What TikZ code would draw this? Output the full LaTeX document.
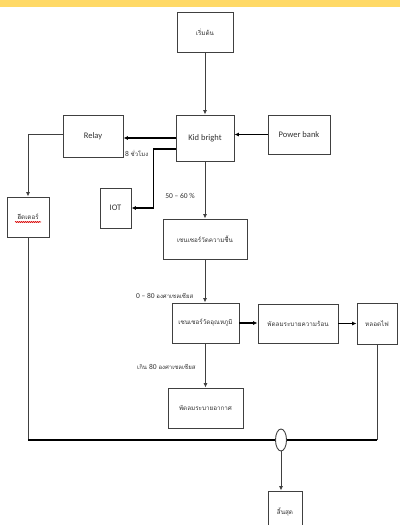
\documentclass[tikz,border=0pt]{standalone}
\usepackage{fontspec}
\setmainfont{Carlito}
\newfontfamily\thai[Script=Thai]{Loma}
\usetikzlibrary{arrows.meta,calc,shapes.geometric,decorations.pathmorphing}
\definecolor{band}{HTML}{FFD966}
\tikzset{
  box/.style={draw=black!75, line width=0.9pt, fill=white, inner sep=1pt, align=center,
    text=black!80, font=\fontsize{8.5}{9}\selectfont},
  tbox/.style={box, font=\thai\fontsize{6.3}{7}\selectfont},
  lbl/.style={text=black!80, inner sep=0pt, font=\fontsize{7.5}{9}\selectfont},
  tlbl/.style={lbl, font=\thai\fontsize{6}{7}\selectfont},
  thinline/.style={draw=black!75, line width=0.9pt},
  thickline/.style={draw=black, line width=1.4pt},
  arr/.style={-{Latex[length=4.5pt,width=4pt]}},
}
\begin{document}
\begin{tikzpicture}[x=1pt,y=-1pt]
\useasboundingbox (0,0) rectangle (400,525);
\clip (0,0) rectangle (400,525);
\fill[band] (0,0) rectangle (400,7);

\node[tbox, minimum width=56pt, minimum height=40pt] (start) at (205,32) {เริ่มต้น};
\node[box, minimum width=58pt, minimum height=46pt] (kid) at (205,138) {Kid bright};
\node[box, minimum width=62pt, minimum height=39pt] (power) at (299,134.5) {Power bank};
\node[box, minimum width=60pt, minimum height=42pt] (relay) at (93,136) {Relay};
\node[box, minimum width=31pt, minimum height=40pt] (iot) at (115.5,208) {IOT};
\node[tbox, minimum width=42pt, minimum height=40pt] (heater) at (28,217) {ฮีตเตอร์};
\node[tbox, minimum width=84pt, minimum height=40pt] (hum) at (205,239) {เซนเซอร์วัดความชื้น};
\node[tbox, minimum width=67pt, minimum height=40pt] (temp) at (205.5,323) {เซนเซอร์วัดอุณหภูมิ};
\node[tbox, minimum width=80pt, minimum height=39pt] (fan) at (298,323.5) {พัดลมระบายความร้อน};
\node[tbox, minimum width=40pt, minimum height=41pt] (bulb) at (377,323.5) {หลอดไฟ};
\node[tbox, minimum width=75pt, minimum height=40pt] (vent) at (205.5,408) {พัดลมระบายอากาศ};
\node[draw=black!75, line width=0.9pt, fill=white, ellipse, minimum width=11pt, minimum height=22pt, inner sep=0pt] (oval) at (281,440) {};
\node[tbox, minimum width=34pt, minimum height=42pt] (end) at (285,512) {สิ้นสุด};

% red spell-check underline
\draw[red!85!black, line width=0.6pt, decorate, decoration={snake, amplitude=0.5pt, segment length=2pt}]
  ($(heater.center)+(-13,5)$) -- ($(heater.center)+(13,5)$);

% connectors
\draw[thinline, arr] (start.south) -- (kid.north);
\draw[thickline, arr] (kid.west) -- (kid.west -| relay.east);
\draw[thickline, arr] (power.west) -- (power.west -| kid.east);
\draw[thickline, arr] ($(kid.west)+(0,11)$) -| ($(iot.east)+(22,0)$) -- (iot.east);
\draw[thinline, arr] ($(relay.west)+(0,-2)$) -| (heater.north);
\draw[thinline, arr] (kid.south) -- (hum.north);
\draw[thinline, arr] (hum.south) -- (hum.south |- temp.north);
\draw[thickline, arr] (temp.east) -- (temp.east -| fan.west);
\draw[thickline, arr] (fan.east) -- (fan.east -| bulb.west);
\draw[thinline, arr] (temp.south) -- (vent.north);
\coordinate (bl) at (heater.south |- oval.west);
\coordinate (br) at (bulb.south |- oval.east);
\draw[thinline] (heater.south) -- (bl);
\draw[thickline] (bl) -- (oval.west);
\draw[thinline] (bulb.south) -- (br);
\draw[thickline] (br) -- (oval.east);
\draw[thinline, arr] (oval.south) -- (oval.south |- end.north);

% labels
\node[lbl, anchor=west] (l8) at (125,153) {8 {\thai\fontsize{6}{7}\selectfont ชั่วโมง}};
\node[lbl] (l50) at (180,196) {50 – 60 \%};
\node[lbl, anchor=west] (l080) at (136,296) {0 – 80 {\thai\fontsize{6}{7}\selectfont องศาเซลเซียส}};
\node[tlbl, anchor=west] (l80) at (137,367) {เกิน {\fontfamily{\familydefault}\fontsize{7.5}{9}\selectfont 80} องศาเซลเซียส};
\end{tikzpicture}
\end{document}
